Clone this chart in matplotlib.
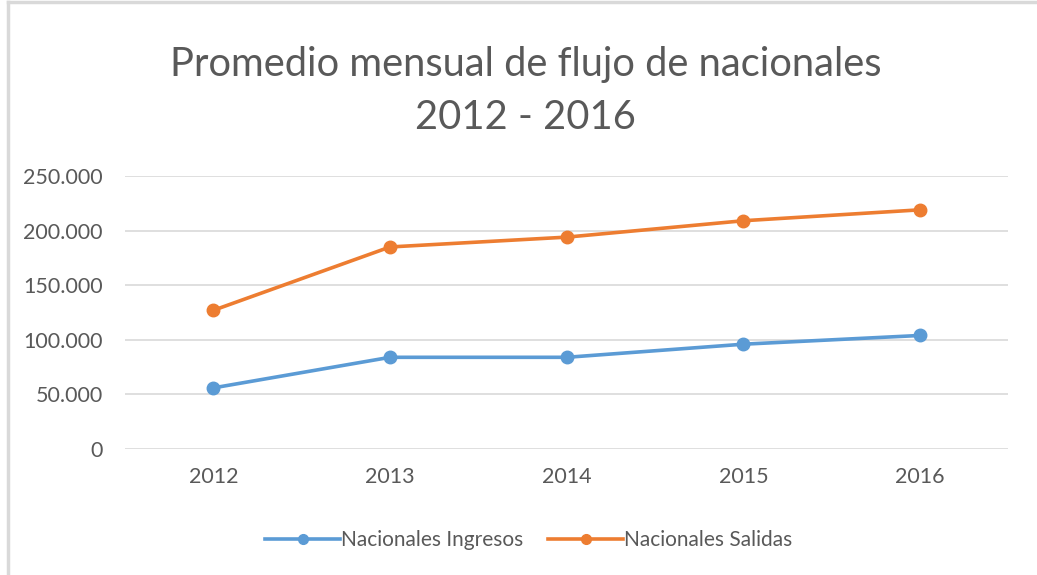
import matplotlib.pyplot as plt
from matplotlib.lines import Line2D

years = ["2012", "2013", "2014", "2015", "2016"]
ingresos = [56000, 84000, 84000, 96000, 104000]
salidas = [127000, 185000, 194000, 209000, 219000]
y_ticks = [0, 50000, 100000, 150000, 200000, 250000]

blue = "#5B9BD5"
orange = "#ED7D31"
grey = "#595959"

plt.rcParams["font.family"] = ["Lato", "DejaVu Sans"]

fig = plt.figure(figsize=(10.37, 5.75), dpi=100)
ax = fig.add_axes([0.1205, 0.219, 0.852, 0.475])

x = range(len(years))
ax.plot(x, ingresos, color=blue, lw=2.6, marker="o", ms=9, label="Nacionales Ingresos", zorder=3)
ax.plot(x, salidas, color=orange, lw=2.6, marker="o", ms=9, label="Nacionales Salidas", zorder=3)

ax.set_xlim(-0.5, len(years) - 0.5)
ax.set_ylim(0, 250000)
ax.set_xticks(list(x))
ax.set_xticklabels(years)
ax.set_yticks(y_ticks)
ax.set_yticklabels(["0" if v == 0 else f"{v:,}".replace(",", ".") for v in y_ticks])
ax.tick_params(length=0, labelsize=15.5, colors=grey, pad=13)
ax.tick_params(axis="y", pad=16)
ax.yaxis.grid(True, color="#D9D9D9", lw=1.2, zorder=0)
for s in ax.spines.values():
    s.set_visible(False)

fig.text(0.507, 0.842, "Promedio mensual de flujo de nacionales\n2012 - 2016",
         ha="center", va="center", fontsize=28.7, color=grey, linespacing=1.52)

handles = [Line2D([], [], color=blue, lw=2.6, marker="o", ms=7),
           Line2D([], [], color=orange, lw=2.6, marker="o", ms=7)]
fig.legend(handles, ["Nacionales Ingresos", "Nacionales Salidas"], loc="center",
           bbox_to_anchor=(0.51, 0.06), ncol=2, frameon=False, fontsize=15,
           labelcolor=grey, handlelength=3.6, handletextpad=0.05, columnspacing=1.2)

# chart border (left and top edges visible)
fig.add_artist(Line2D([0.008, 0.008], [0, 0.996], color="#D9D9D9", lw=2.5))
fig.add_artist(Line2D([0.008, 1.0], [0.996, 0.996], color="#D9D9D9", lw=2.5))

fig.savefig("out.png", dpi=100)
